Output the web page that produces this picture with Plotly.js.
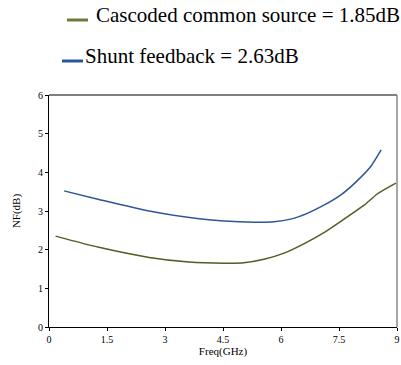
<!DOCTYPE html>
<html>
<head>
<meta charset="utf-8">
<script src="https://cdn.plot.ly/plotly-3.0.1.min.js"></script>
<style>html,body{margin:0;padding:0;background:#fff;}#chart{width:401px;height:365px;}</style>
</head>
<body>
<div id="chart"></div>
<script>
// Shunt feedback NF (dB) vs frequency (GHz)
const shuntFreq = [0.39, 1.29, 2.59, 3.88, 4.53, 5.30, 5.82, 6.25, 6.68, 7.11, 7.54, 7.97, 8.32, 8.59];
const shuntNF   = [3.52, 3.30, 3.00, 2.80, 2.74, 2.71, 2.72, 2.79, 2.94, 3.15, 3.41, 3.78, 4.15, 4.58];
// Cascoded common source NF (dB) vs frequency (GHz)
const cascFreq = [0.17, 1.29, 2.59, 3.62, 4.53, 5.04, 5.56, 6.08, 6.59, 7.11, 7.63, 8.15, 8.49, 8.97];
const cascNF   = [2.35, 2.06, 1.80, 1.68, 1.65, 1.66, 1.75, 1.91, 2.15, 2.44, 2.79, 3.15, 3.44, 3.72];
const xTicks = [0, 1.5, 3, 4.5, 6, 7.5, 9];
const xTickLabels = ['0', '1.5', '3', '4.5', '6', '7.5', '9'];
const yTicks = [0, 1, 2, 3, 4, 5, 6];
const legendCasc = 'Cascoded common source = 1.85dB';
const legendShunt = 'Shunt feedback = 2.63dB';

const serif = '"Liberation Serif", "Times New Roman", serif';
const blue = '#2c5697';
const green = '#4f5e22';

const traces = [
  {x: cascFreq, y: cascNF, type: 'scatter', mode: 'lines', line: {color: green, width: 1.5, shape: 'spline', smoothing: 0.6}, name: legendCasc, showlegend: false},
  {x: shuntFreq, y: shuntNF, type: 'scatter', mode: 'lines', line: {color: blue, width: 1.5, shape: 'spline', smoothing: 0.6}, name: legendShunt, showlegend: false}
];

const layout = {
  width: 401, height: 365,
  margin: {l: 49, r: 4, t: 95, b: 38},
  paper_bgcolor: '#fff', plot_bgcolor: '#fff',
  font: {family: serif, color: '#000'},
  xaxis: {
    range: [0, 9], tickvals: xTicks, ticktext: xTickLabels,
    showgrid: false, zeroline: false, showline: true, linecolor: '#000', linewidth: 1,
    ticks: 'outside', ticklen: 3, tickcolor: '#000', tickfont: {size: 10, family: serif},
    title: {text: 'Freq(GHz)', font: {size: 11, family: serif}, standoff: 3}
  },
  yaxis: {
    range: [0, 6], tickvals: yTicks,
    showgrid: false, zeroline: false, showline: true, linecolor: '#000', linewidth: 1,
    ticks: 'outside', ticklen: 3, tickcolor: '#000', tickfont: {size: 10, family: serif},
    title: {text: 'NF(dB)', font: {size: 11, family: serif}, standoff: 15}
  },
  shapes: [
    {type: 'line', xref: 'paper', yref: 'paper', x0: 0, x1: 1, y0: 1, y1: 1, line: {color: '#7f7f7f', width: 2}},
    {type: 'line', xref: 'paper', yref: 'paper', x0: 1, x1: 1, y0: 0, y1: 1, line: {color: '#8a8a8a', width: 1.5}},
    {type: 'line', xref: 'paper', yref: 'paper', x0: (67-49)/348, x1: (88-49)/348, y0: 1 + (95-20)/232, y1: 1 + (95-20)/232, line: {color: '#6a7a3a', width: 3}},
    {type: 'line', xref: 'paper', yref: 'paper', x0: (62-49)/348, x1: (83-49)/348, y0: 1 + (95-61)/232, y1: 1 + (95-61)/232, line: {color: blue, width: 3}}
  ],
  annotations: [
    {xref: 'paper', yref: 'paper', x: (94-49)/348, y: 1 + (95-15)/232, xanchor: 'left', yanchor: 'middle', showarrow: false, text: legendCasc, font: {size: 21, family: serif, color: '#000'}},
    {xref: 'paper', yref: 'paper', x: (83-49)/348, y: 1 + (95-56)/232, xanchor: 'left', yanchor: 'middle', showarrow: false, text: legendShunt, font: {size: 21, family: serif, color: '#000'}}
  ],
  showlegend: false
};

Plotly.newPlot('chart', traces, layout, {displayModeBar: false, staticPlot: true});
</script>
</body>
</html>
